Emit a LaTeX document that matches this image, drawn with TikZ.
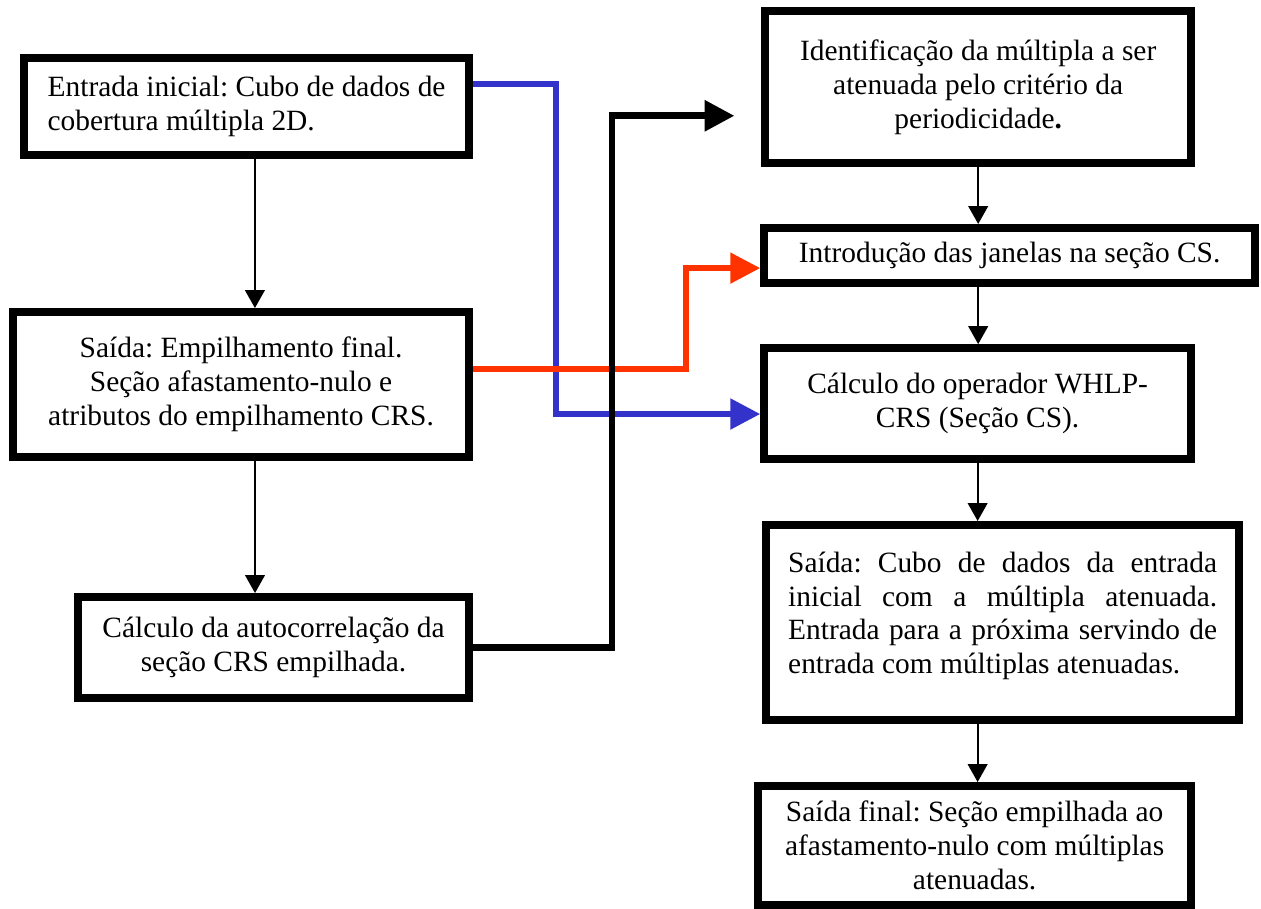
\documentclass[tikz,border=0pt]{standalone}
\usepackage{fontspec}
\setmainfont{Liberation Serif}
\usetikzlibrary{arrows.meta,positioning}
\definecolor{linkBlue}{HTML}{3333CC}
\definecolor{linkRed}{HTML}{FF3300}
\frenchspacing

\begin{document}
\begin{tikzpicture}[
  font=\fontsize{12}{13.8}\selectfont,
  box/.style={draw=black,line width=3.25pt,fill=white,inner sep=2pt},
  flow/.style={line width=.8pt,-{Triangle[length=7.3pt,width=8pt]}},
  link/.style={line width=2.3pt,-{Triangle[length=12.2pt,width=12.2pt]}}
]
  \useasboundingbox (0,0) rectangle (18.08,-13.02);

  % coluna da esquerda
  \node[box,minimum width=6.38cm,minimum height=1.39cm,align=left] (entrada) at (3.535,-1.527)
    {Entrada inicial: Cubo de dados de\\cobertura múltipla 2D.};
  \node[box,minimum width=6.54cm,minimum height=2.08cm,align=center] (saida) at (3.456,-5.514)
    {Saída: Empilhamento final.\\Seção afastamento-nulo e\\atributos do empilhamento CRS.};
  \node[box,minimum width=5.61cm,minimum height=1.45cm,align=center] (autocorr) at (3.922,-9.285)
    {Cálculo da autocorrelação da\\seção CRS empilhada.};

  % coluna da direita
  \node[box,minimum width=6.11cm,minimum height=2.18cm,align=center] (ident) at (14.025,-1.248)
    {Identificação da múltipla a ser\\atenuada pelo critério da\\periodicidade\textbf{.}};
  \node[box,minimum width=7.04cm,minimum height=.79cm] (janelas) at (14.476,-3.664)
    {Introdução das janelas na seção CS.};
  \node[box,minimum width=6.12cm,minimum height=1.59cm,align=center] (operador) at (14.017,-5.786)
    {Cálculo do operador WHLP-\\CRS (Seção CS).};
  \node[box,minimum width=6.78cm,minimum height=2.80cm,text width=175pt,align=justify] (saidacubo) at (14.376,-8.927)
    {Saída: Cubo de dados da entrada\linebreak inicial com a múltipla atenuada.\linebreak Entrada para a próxima servindo de\linebreak entrada com múltiplas atenuadas.\rule[-8pt]{0pt}{8pt}};
  \node[box,minimum width=6.21cm,minimum height=1.7cm,align=center] (saidafinal) at (13.974,-12.12)
    {Saída final: Seção empilhada ao\\afastamento-nulo com múltiplas\\atenuadas.};

  % setas finas
  \coordinate (a1) at ([xshift=.12cm]entrada.south);
  \coordinate (a2) at ([xshift=.2cm]saida.south);
  \draw[flow] (a1) -- (a1 |- saida.north);
  \draw[flow] (a2) -- (a2 |- autocorr.north);
  \draw[flow] (ident.south) -- (ident.south |- janelas.north);
  \draw[flow] (ident.south |- janelas.south) -- (ident.south |- operador.north);
  \draw[flow] (operador.south) -- (operador.south |- saidacubo.north);
  \draw[flow] (operador.south |- saidacubo.south) -- (operador.south |- saidafinal.north);

  % ligacoes coloridas
  \draw[link,linkBlue] ([yshift=.32cm]entrada.east) -- ++(1.19,0) |- ([yshift=-.15cm]operador.west);
  \draw[link,linkRed] ([yshift=.22cm]saida.east) -- ++(3.05,0) |- ([yshift=-.18cm]janelas.west);
  \coordinate (alvo) at (10.53,-1.66);
  \draw[link,line width=2.7pt] (autocorr.east) -- ++(1.99,0) |- (alvo);
\end{tikzpicture}
\end{document}
